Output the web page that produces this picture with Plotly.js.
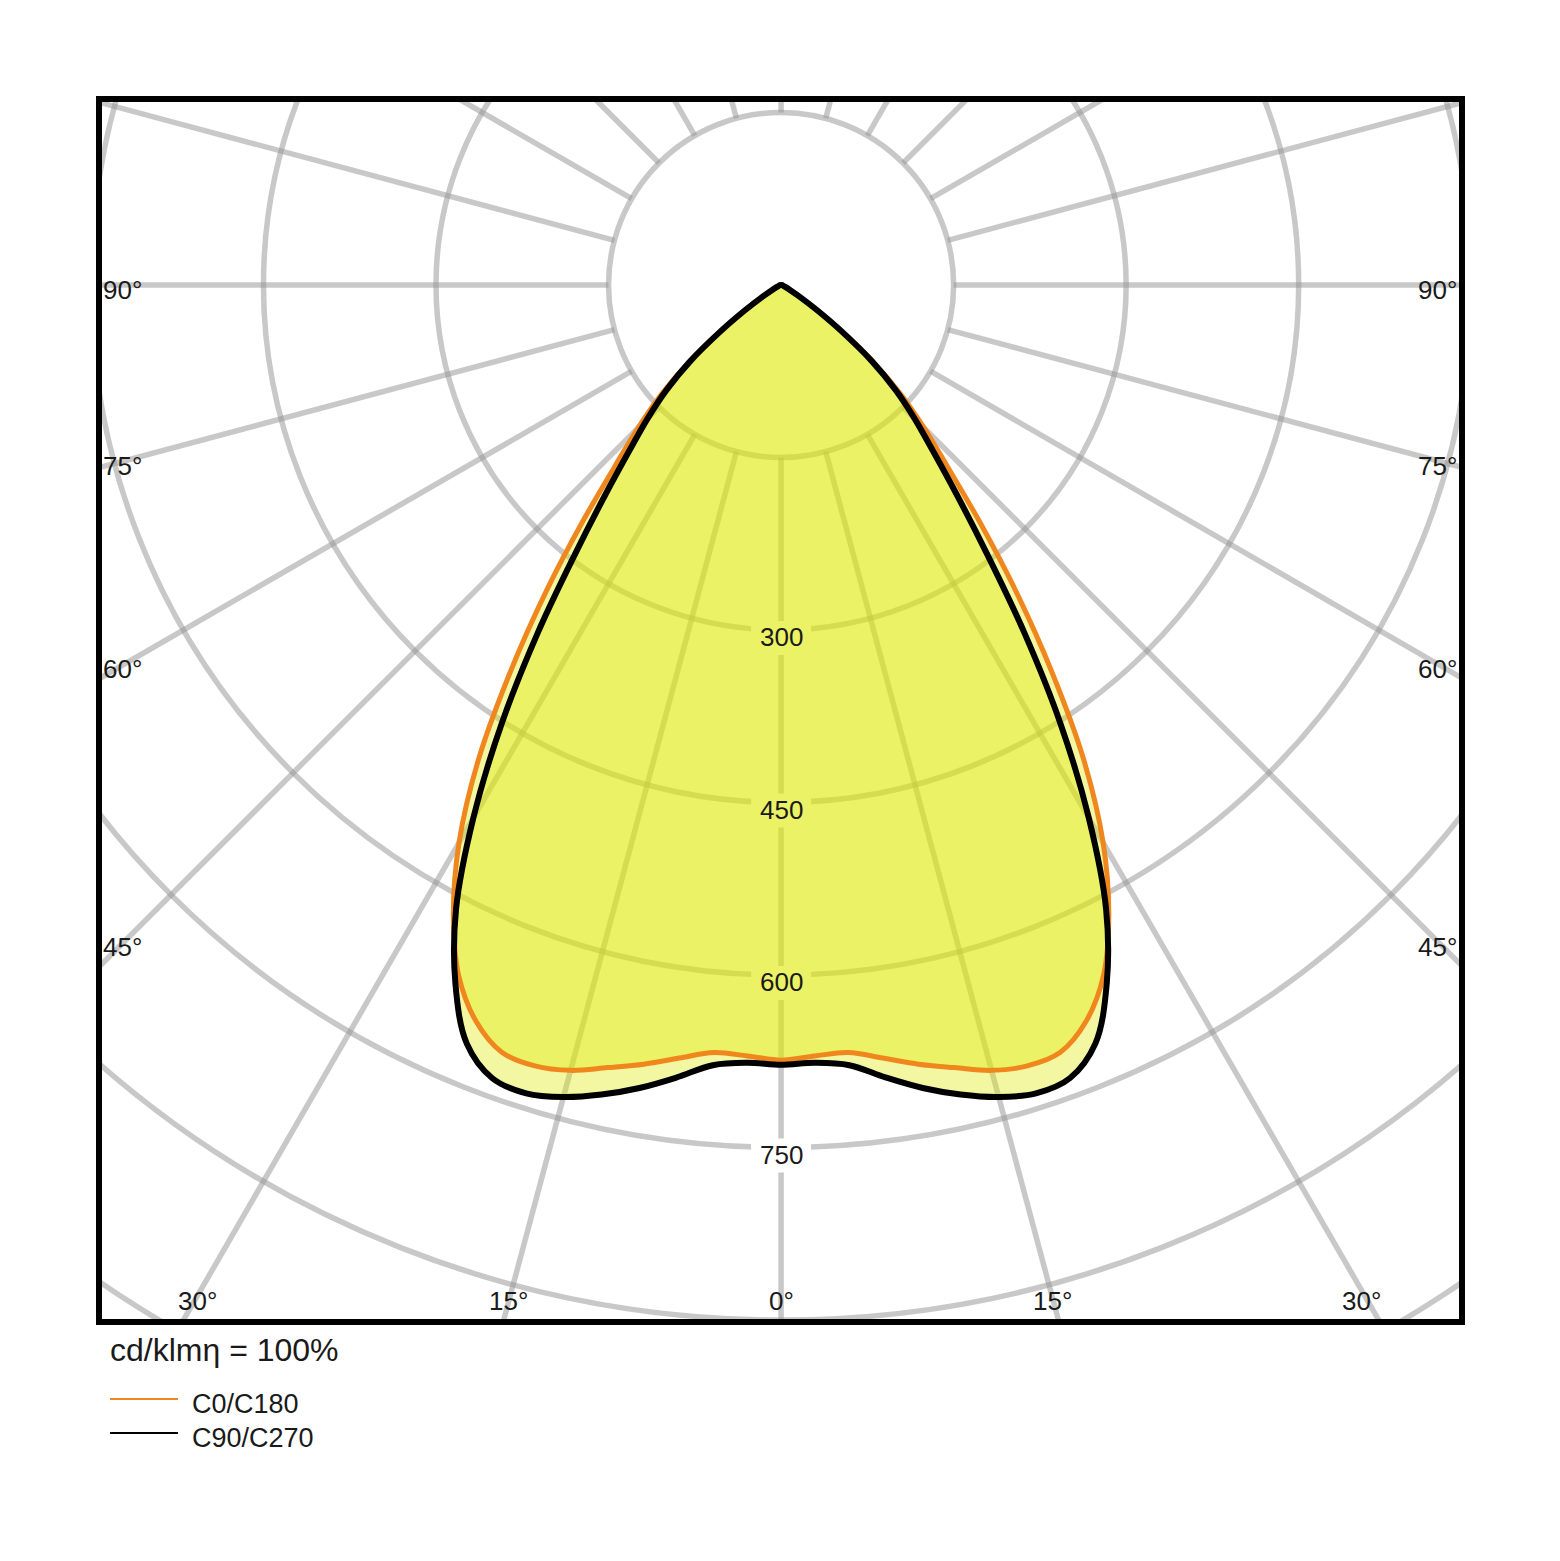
<!DOCTYPE html>
<html>
<head>
<meta charset="utf-8">
<script src="https://cdn.plot.ly/plotly-3.0.1.min.js"></script>
<style>
  html, body { margin: 0; padding: 0; background: #fff; }
  #chart { width: 1560px; height: 1561px; }
</style>
</head>
<body>
<div id="chart"></div>
<script>
// gamma angles (deg from nadir) and intensities in cd/klm, one array per half plane
const GAMMA = [0, 2.5, 5, 7.5, 10, 12.5, 15, 17.5, 20, 22.5, 25, 27.5, 30, 32.5, 35, 37.5, 40, 42.5, 45, 47.5, 50, 52.5, 55, 57.5, 60, 65, 70, 80, 90];
const C0   = [674, 671, 670, 678, 688, 697, 707, 712, 710, 693, 663, 617, 560, 490, 410, 335, 268, 214, 176, 142, 106, 68, 39, 20, 10, 4, 2, 1, 0];
const C180 = [674, 671, 670, 678, 688, 697, 707, 712, 710, 693, 663, 617, 560, 490, 410, 335, 268, 214, 176, 142, 106, 68, 39, 20, 10, 4, 2, 1, 0];
const C90  = [678, 677, 681, 695, 709, 721, 731, 737, 734, 714, 670, 612, 535, 452, 368, 293, 237, 195, 164, 135, 103, 67, 38, 20, 10, 4, 2, 1, 0];
const C270 = [678, 677, 681, 695, 709, 721, 731, 737, 734, 714, 670, 612, 535, 452, 368, 293, 237, 195, 164, 135, 103, 67, 38, 20, 10, 4, 2, 1, 0];

const RINGS = [150, 300, 450, 600, 750, 900, 1050];
const RING_LABELS = [300, 450, 600, 750];
const SPOKES = [0, 15, 30, 45, 60, 75, 90, 105, 120, 135, 150, 165, 180, 195, 210, 225, 240, 255, 270, 285, 300, 315, 330, 345];
const SIDE_LABELS = ["90°", "75°", "60°", "45°"];
const BOTTOM_LABELS = ["30°", "15°", "0°", "15°", "30°"];
const SERIES_NAMES = ["C0/C180", "C90/C270"];

const ORANGE = "#f0861e";
const FILL = "rgba(223,233,0,0.37)";
const GRID = "rgba(150,150,150,0.52)";
const FONT = "Liberation Sans, Arial, sans-serif";
const rad = (d) => (d * Math.PI) / 180;

// polar (gamma from nadir) -> plane coords, left half then right half
function curve(left, right) {
  const x = [], y = [];
  for (let i = GAMMA.length - 1; i >= 0; i--) {
    x.push(-left[i] * Math.sin(rad(GAMMA[i])));
    y.push(-left[i] * Math.cos(rad(GAMMA[i])));
  }
  for (let i = 1; i < GAMMA.length; i++) {
    x.push(right[i] * Math.sin(rad(GAMMA[i])));
    y.push(-right[i] * Math.cos(rad(GAMMA[i])));
  }
  return { x, y };
}

const orange = curve(C180, C0);
const black = curve(C270, C90);
const spline = { shape: "spline", smoothing: 1 };

const traces = [
  { x: black.x, y: black.y, mode: "lines", fill: "toself", fillcolor: FILL,
    line: { width: 0, ...spline }, hoverinfo: "skip" },
  { x: orange.x, y: orange.y, mode: "lines", fill: "toself", fillcolor: FILL,
    line: { color: ORANGE, width: 5, ...spline }, name: SERIES_NAMES[0] },
  { x: black.x, y: black.y, mode: "lines",
    line: { color: "#000", width: 6, ...spline }, name: SERIES_NAMES[1] },
];

const shapes = [];
RINGS.forEach((r) => {
  shapes.push({ type: "circle", xref: "x", yref: "y", x0: -r, x1: r, y0: -r, y1: r,
    line: { color: GRID, width: 5.5 }, layer: "below" });
});
SPOKES.forEach((a) => {
  shapes.push({ type: "line", xref: "x", yref: "y",
    x0: 150 * Math.sin(rad(a)), y0: -150 * Math.cos(rad(a)),
    x1: 1300 * Math.sin(rad(a)), y1: -1300 * Math.cos(rad(a)),
    line: { color: GRID, width: 5.5 }, layer: "below" });
});
// white patches under the ring values (the fill tints them)
RING_LABELS.forEach((r) => {
  shapes.push({ type: "rect", xref: "x", yref: "y", xsizemode: "pixel", ysizemode: "pixel",
    xanchor: 0, yanchor: -r, x0: -30, x1: 30, y0: -25, y1: 9,
    fillcolor: "#fff", line: { width: 0 }, layer: "below" });
});
// frame
shapes.push({ type: "rect", xref: "paper", yref: "paper", x0: 0, x1: 1, y0: 0, y1: 1,
  line: { color: "#000", width: 6 }, layer: "above" });
// legend samples
shapes.push({ type: "line", xref: "paper", yref: "paper", xsizemode: "pixel", ysizemode: "pixel",
  xanchor: 0, yanchor: 0, x0: 11, x1: 79, y0: -77, y1: -77, line: { color: ORANGE, width: 2 } });
shapes.push({ type: "line", xref: "paper", yref: "paper", xsizemode: "pixel", ysizemode: "pixel",
  xanchor: 0, yanchor: 0, x0: 11, x1: 79, y0: -111, y1: -111, line: { color: "#000", width: 2 } });

const txt = { family: FONT, size: 26, color: "#1a1a1a" };
const annotations = [];
RING_LABELS.forEach((r) => {
  annotations.push({ x: 0, y: -r, xref: "x", yref: "y", text: String(r), showarrow: false,
    yshift: -7, yanchor: "middle", font: txt, borderpad: 0 });
});
const sideY = [-4, -157, -334, -576];
SIDE_LABELS.forEach((t, i) => {
  annotations.push({ x: 0, y: sideY[i], xref: "paper", yref: "y", text: t, showarrow: false,
    xanchor: "left", yanchor: "middle", xshift: 3, font: txt, borderpad: 0 });
  annotations.push({ x: 1, y: sideY[i], xref: "paper", yref: "y", text: t, showarrow: false,
    xanchor: "right", yanchor: "middle", xshift: -4, font: txt, borderpad: 0 });
});
const bottomX = [-507, -237, 0, 236, 505];
BOTTOM_LABELS.forEach((t, i) => {
  annotations.push({ x: bottomX[i], y: 0, xref: "x", yref: "paper", text: t, showarrow: false,
    xanchor: "center", yanchor: "middle", yshift: 21, font: txt, borderpad: 0 });
});
annotations.push({ x: 0, y: 0, xref: "paper", yref: "paper", text: "cd/klmη = 100%", showarrow: false,
  xanchor: "left", yanchor: "middle", xshift: 10, yshift: -28,
  font: { family: FONT, size: 32, color: "#1a1a1a" }, borderpad: 0 });
SERIES_NAMES.forEach((t, i) => {
  annotations.push({ x: 0, y: 0, xref: "paper", yref: "paper", text: t, showarrow: false,
    xanchor: "left", yanchor: "middle", xshift: 92, yshift: -82 - 34 * i,
    font: { family: FONT, size: 27, color: "#1a1a1a" }, borderpad: 0 });
});

Plotly.newPlot("chart", traces, {
  width: 1560,
  height: 1561,
  margin: { l: 99, r: 98, t: 99, b: 239, pad: 0, autoexpand: false },
  paper_bgcolor: "#fff",
  plot_bgcolor: "#fff",
  showlegend: false,
  xaxis: { range: [-593, 592], visible: false, fixedrange: true },
  yaxis: { range: [-901.7, 161.7], visible: false, fixedrange: true },
  shapes: shapes,
  annotations: annotations,
}, { staticPlot: true });
</script>
</body>
</html>
